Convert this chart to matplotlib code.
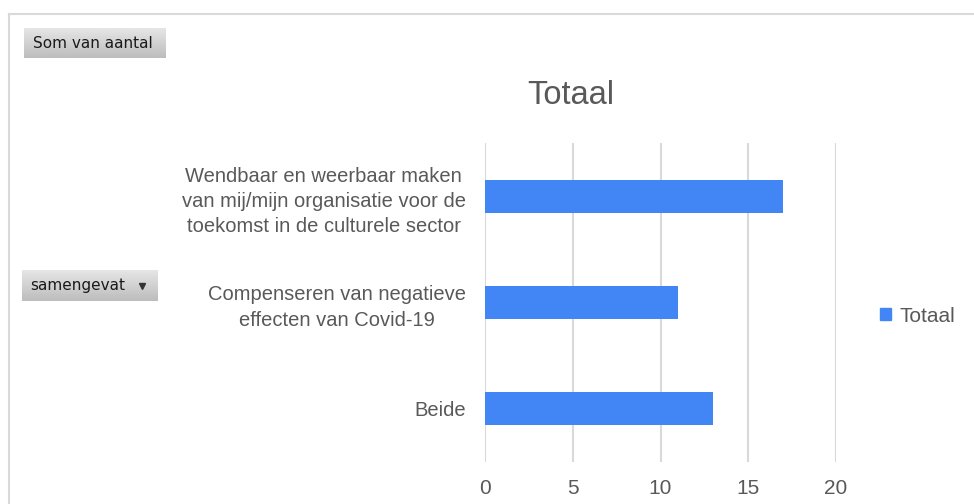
"""
Pivot chart 'Totaal': horizontal bars per category
"""

import matplotlib.pyplot as plt
import numpy as np
from matplotlib.lines import Line2D

# Data
categories = ['Beide',
              'Compenseren van negatieve\neffecten van Covid-19',
              'Wendbaar en weerbaar maken\nvan mij/mijn organisatie voor de\ntoekomst in de culturele sector']
values = [13, 11, 17]
xticks = [0, 5, 10, 15, 20]
series_name = 'Totaal'

BLUE = '#4285f4'
GREY_TEXT = '#595959'
GRID = '#d9d9d9'

plt.rcParams['font.family'] = ['Liberation Sans', 'DejaVu Sans']

fig = plt.figure(figsize=(9.74, 5.04), dpi=100)

# Chart border (top and left edge visible)
fig.add_artist(Line2D([9 / 974, 9 / 974], [0, 1 - 14 / 504], color=GRID, lw=1.5))
fig.add_artist(Line2D([9 / 974, 1], [1 - 14 / 504, 1 - 14 / 504], color=GRID, lw=1.5))

ax = fig.add_axes([485 / 974, 1 - 462 / 504, (836 - 485) / 974, (462 - 143) / 504])
y = np.arange(len(categories))
ax.barh(y, values, height=0.31, color=BLUE, zorder=3, label=series_name)
ax.set_xlim(0, 20)
ax.set_ylim(-0.5, 2.5)
ax.set_xticks(xticks)
ax.set_yticks(y)
ax.set_yticklabels(categories, ha='right', multialignment='center', linespacing=1.4)
ax.tick_params(axis='y', length=0, pad=14, labelsize=14.5, labelcolor=GREY_TEXT)
ax.tick_params(axis='x', length=0, pad=12, labelsize=15, labelcolor=GREY_TEXT)
ax.grid(axis='x', color=GRID, lw=1.5, zorder=0)
for s in ax.spines.values():
    s.set_visible(False)

fig.text(571 / 974, 1 - 96 / 504, 'Totaal', ha='center', va='center', fontsize=23.5, color=GREY_TEXT)

# Legend
fig.legend(handles=[plt.Rectangle((0, 0), 1, 1, color=BLUE)], labels=[series_name],
           loc='center left', bbox_to_anchor=(861 / 974, 1 - 316 / 504), frameon=False,
           fontsize=15, handlelength=0.55, handleheight=0.55, handletextpad=0.4,
           labelcolor=GREY_TEXT)


def button(x0, y0, x1, y1, text, arrow=False):
    """Grey gradient pivot field button, pixel coords from top-left"""
    bax = fig.add_axes([x0 / 974, 1 - y1 / 504, (x1 - x0) / 974, (y1 - y0) / 504])
    grad = np.linspace(0.90, 0.74, 50).reshape(-1, 1)
    bax.imshow(grad, cmap='gray', vmin=0, vmax=1, aspect='auto', extent=[0, 1, 0, 1])
    bax.set_axis_off()
    bax.text(0.06, 0.5, text, ha='left', va='center', fontsize=11, color='#1a1a1a',
             family='DejaVu Sans', transform=bax.transAxes)
    if arrow:
        bax.plot([0.88], [0.5], marker='v', ms=5, color='#333333', transform=bax.transAxes)


button(24, 28, 166, 58, 'Som van aantal')
button(22, 270, 158, 301, 'samengevat', arrow=True)

plt.savefig('out.png', dpi=100)
